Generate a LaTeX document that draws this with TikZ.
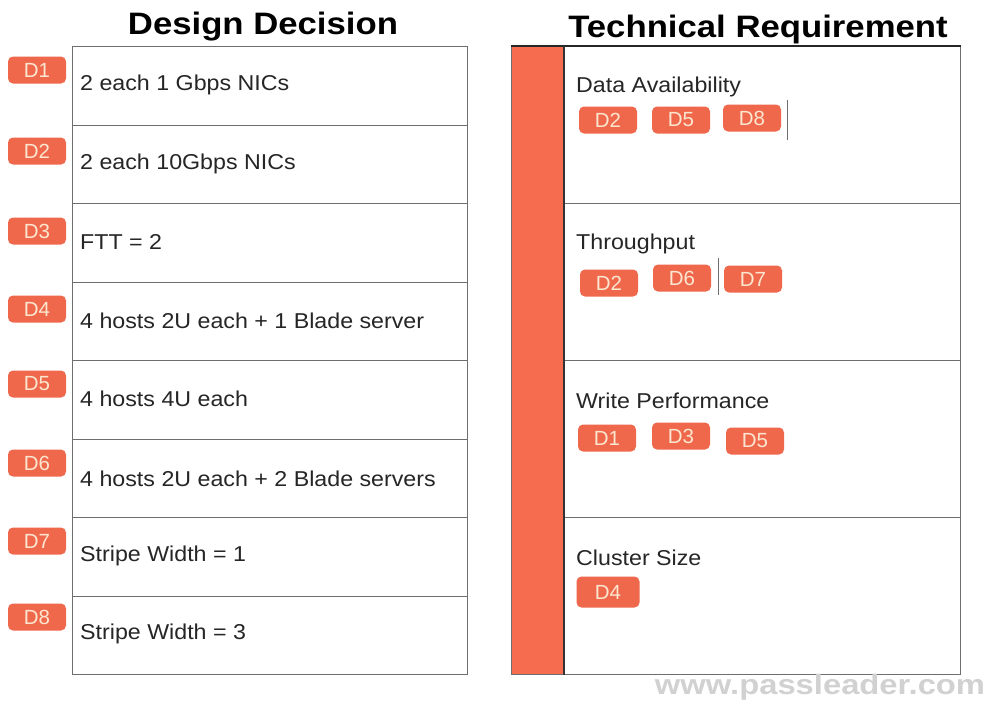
\documentclass[tikz,border=0pt]{standalone}
\usepackage{fontspec}
\setmainfont{Liberation Sans}
\definecolor{badge}{HTML}{F0684C}
\definecolor{bartone}{HTML}{F66C4E}
\definecolor{badgetext}{HTML}{FBE6CF}
\definecolor{gridline}{HTML}{6E6E6E}
\tikzset{
  rowbox/.style={draw=gridline, line width=1pt, minimum width=395pt, minimum height=78.5pt, anchor=north west, inner sep=0pt},
  reqbox/.style={draw=gridline, line width=1pt, minimum width=397pt, minimum height=157pt, anchor=north west, inner sep=0pt},
  rowtext/.style={anchor=west, inner sep=0pt, font=\fontsize{21.5}{25}\selectfont, text=black!85, xscale=1.08},
  dbadge/.style={fill=badge, rounded corners=5pt, minimum width=58pt, minimum height=27pt, inner sep=0pt, text=badgetext, font=\fontsize{20.5}{24}\selectfont},
  title/.style={font=\bfseries\fontsize{31}{36}\selectfont, inner sep=0pt, xscale=1.12},
  sepline/.style={draw=gridline, line width=0.8pt}
}
\begin{document}
\begin{tikzpicture}[x=1pt,y=-1pt]
\useasboundingbox[fill=white] (0,0) rectangle (992,702);
% titles
\node[title] (t1) at (263,27) {Design Decision};
\node[title] (t2) at (758,29) {Technical Requirement};
% left rows
\foreach \i/\y in {1/46,2/124.5,3/203,4/281.5,5/360,6/438.5,7/517,8/595.5}{
  \node[rowbox] (r\i) at (72,\y) {};
}
\node[rowtext] (x1) at (80,85) {2 each 1 Gbps NICs};
\node[rowtext] (x2) at (80,164) {2 each 10Gbps NICs};
\node[rowtext] (x3) at (80,242) {FTT = 2};
\node[rowtext] (x4) at (80,321) {4 hosts 2U each + 1 Blade server};
\node[rowtext] (x5) at (80,399) {4 hosts 4U each};
\node[rowtext] (x6) at (80,479) {4 hosts 2U each + 2 Blade servers};
\node[rowtext] (x7) at (80,556) {Stripe Width = 1};
\node[rowtext] (x8) at (80,634) {Stripe Width = 3};
% left badges
\node[dbadge] (b1) at (37,70) {D1};
\node[dbadge] (b2) at (37,151) {D2};
\node[dbadge] (b3) at (37,231) {D3};
\node[dbadge] (b4) at (37,309) {D4};
\node[dbadge] (b5) at (37,384) {D5};
\node[dbadge] (b6) at (37,463) {D6};
\node[dbadge] (b7) at (37,541) {D7};
\node[dbadge] (b8) at (37,617) {D8};
% right side
\node[draw=gridline, line width=1pt, fill=bartone, minimum width=52pt, minimum height=628pt, anchor=north west, inner sep=0pt] (bar) at (511,46) {};
\foreach \i/\y in {1/46,2/203,3/360,4/517}{
  \node[reqbox] (q\i) at (563,\y) {};
}
\draw[line width=1.6pt, black!85] (bar.north west) -- (q1.north east);
\draw[line width=1.4pt, black!80] (bar.north east) -- (bar.south east);
\node[rowtext] (h1) at (576,87) {Data Availability};
\node[rowtext] (h2) at (576,244) {Throughput};
\node[rowtext] (h3) at (576,401) {Write Performance};
\node[rowtext] (h4) at (576,558) {Cluster Size};
% right badges
\node[dbadge] (a1) at (608,120) {D2};
\node[dbadge] (a2) at (681,120) {D5};
\node[dbadge] (a3) at (752,118) {D8};
\coordinate (v1a) at (787,100); \coordinate (v1b) at (787,140);
\draw[sepline] (v1a) -- (v1b);
\node[dbadge] (c1) at (609,283) {D2};
\node[dbadge] (c2) at (682,278) {D6};
\node[dbadge] (c3) at (753,279) {D7};
\coordinate (v2a) at (718,258); \coordinate (v2b) at (718,295);
\draw[sepline] (v2a) -- (v2b);
\node[dbadge] (e1) at (607,438) {D1};
\node[dbadge] (e2) at (681,436) {D3};
\node[dbadge] (e3) at (755,441) {D5};
\node[dbadge, minimum width=63pt, minimum height=31pt] (f1) at (608,592) {D4};
% watermark
\node[inner sep=0pt, text=black!18, font=\bfseries\fontsize{28}{30}\selectfont, xscale=1.17] (wm) at (820,687) {www.passleader.com};
\end{tikzpicture}
\end{document}
